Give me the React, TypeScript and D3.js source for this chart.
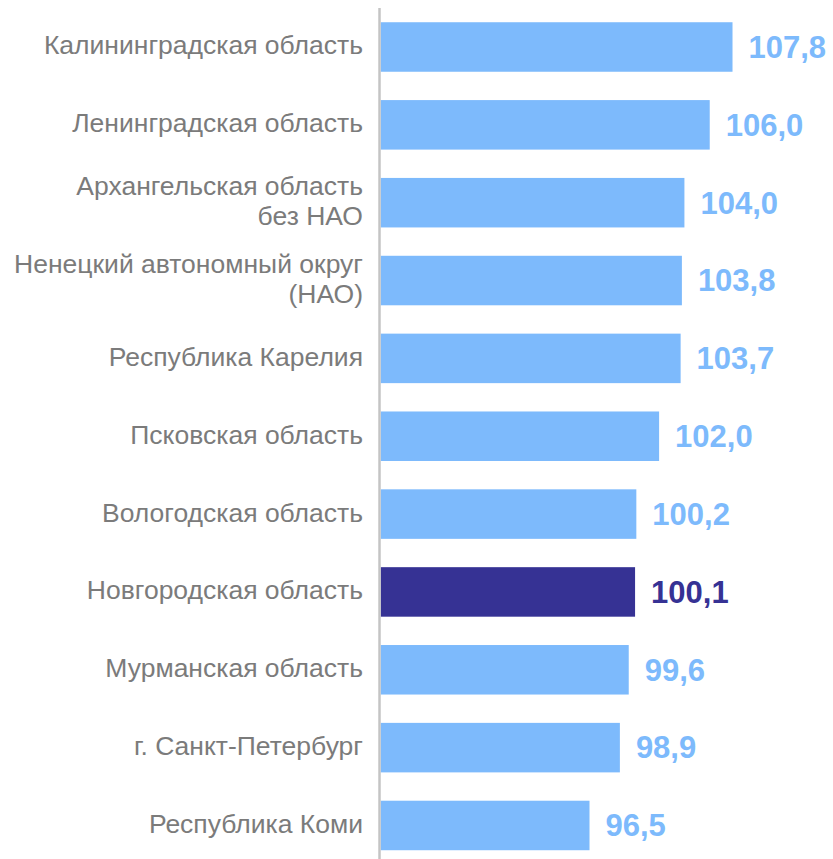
import * as d3 from "d3";
import { useEffect, useRef } from "react";

const regions = [
  "Калининградская область",
  "Ленинградская область",
  "Архангельская область\nбез НАО",
  "Ненецкий автономный округ\n(НАО)",
  "Республика Карелия",
  "Псковская область",
  "Вологодская область",
  "Новгородская область",
  "Мурманская область",
  "г. Санкт-Петербург",
  "Республика Коми",
];

const values = [107.8, 106.0, 104.0, 103.8, 103.7, 102.0, 100.2, 100.1, 99.6, 98.9, 96.5];

const highlight = "Новгородская область";

const W = 833;
const H = 859;

export default function App() {
  const ref = useRef<SVGSVGElement>(null);

  useEffect(() => {
    const svg = d3.select(ref.current);
    svg.selectAll("*").remove();

    const light = "#7dbafc";
    const dark = "#363294";

    const x = d3.scaleLinear().domain([80, 110]).range([380.7, 760.35]);
    const y = d3
      .scaleBand<string>()
      .domain(regions)
      .range([8.07, 864.4])
      .paddingInner(0.364)
      .paddingOuter(0.182);

    const rows = regions.map((r, i) => ({ name: r, value: values[i] }));

    const g = svg.append("g");

    // bars
    g.selectAll("rect")
      .data(rows)
      .join("rect")
      .attr("x", x(80))
      .attr("y", (d) => y(d.name)!)
      .attr("width", (d) => x(d.value) - x(80))
      .attr("height", y.bandwidth())
      .attr("fill", (d) => (d.name === highlight ? dark : light));

    // axis line
    g.append("line")
      .attr("x1", 379.5)
      .attr("x2", 379.5)
      .attr("y1", 8)
      .attr("y2", H)
      .attr("stroke", "#c4c4c4")
      .attr("stroke-width", 2.5);

    // value labels
    g.selectAll("text.val")
      .data(rows)
      .join("text")
      .attr("class", "val")
      .attr("x", (d) => x(d.value) + 16)
      .attr("y", (d) => y(d.name)! + y.bandwidth() / 2)
      .attr("dy", "0.35em")
      .attr("font-family", "'Liberation Sans', Arial, sans-serif")
      .attr("font-weight", "bold")
      .attr("font-size", 31)
      .attr("fill", (d) => (d.name === highlight ? dark : light))
      .text((d) => d3.format(".1f")(d.value).replace(".", ","));

    // category labels
    const lab = g
      .selectAll("text.cat")
      .data(rows)
      .join("text")
      .attr("class", "cat")
      .attr("text-anchor", "end")
      .attr("font-family", "'Liberation Sans', Arial, sans-serif")
      .attr("font-size", 26.5)
      .attr("fill", "#7b7b7b");

    lab.each(function (d) {
      const lines = d.name.split("\n");
      const cy = y(d.name)! + y.bandwidth() / 2;
      const lh = 30;
      const base = cy + 7.5 - ((lines.length - 1) * lh) / 2;
      d3.select(this)
        .selectAll("tspan")
        .data(lines)
        .join("tspan")
        .attr("x", 363)
        .attr("y", (_, i) => base + i * lh)
        .text((l) => l);
    });
  }, []);

  return (
    <svg
      ref={ref}
      width={W}
      height={H}
      style={{ position: "absolute", left: 0, top: 0, background: "#fff" }}
    />
  );
}
